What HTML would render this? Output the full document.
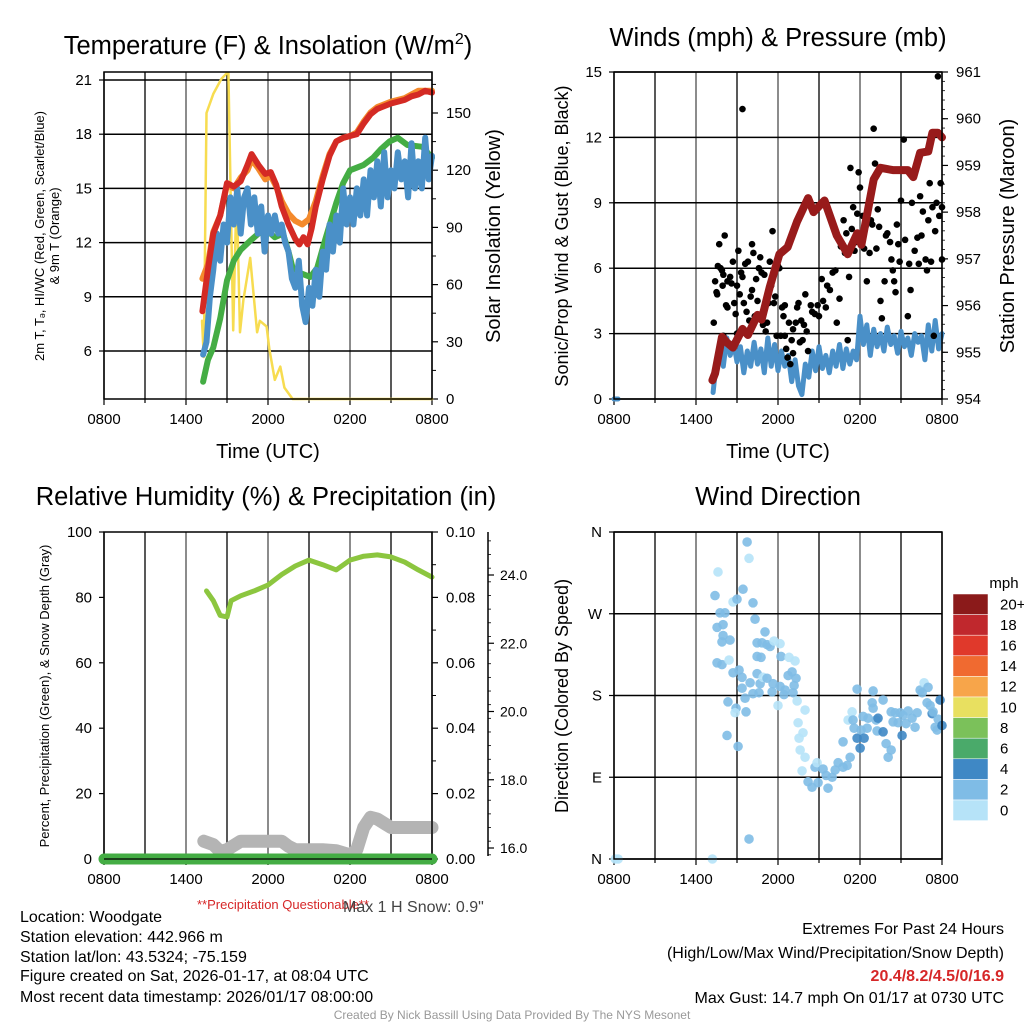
<!DOCTYPE html>
<html><head><meta charset="utf-8"><style>
html,body{margin:0;padding:0;background:#fff;}
svg{display:block;font-family:"Liberation Sans",sans-serif;}
</style></head><body>
<svg id="chart" width="1024" height="1024" viewBox="0 0 1024 1024" xmlns="http://www.w3.org/2000/svg">
<rect width="1024" height="1024" fill="#fff"/>
<text x="268" y="54" font-size="25.5" text-anchor="middle">Temperature (F) &amp; Insolation (W/m<tspan font-size="16" dy="-10">2</tspan><tspan dy="10">)</tspan></text>
<text x="778" y="46" font-size="25.5" text-anchor="middle">Winds (mph) &amp; Pressure (mb)</text>
<text x="266" y="505" font-size="25.5" text-anchor="middle">Relative Humidity (%) &amp; Precipitation (in)</text>
<text x="778" y="505" font-size="25.5" text-anchor="middle">Wind Direction</text>
<g id="g"></g>
<text x="283" y="909" font-size="13" fill="#d62728" text-anchor="middle">**Precipitation Questionable**</text>
<text x="343" y="912" font-size="16" fill="#444">Max 1 H Snow: 0.9"</text>
<g font-size="16">
<text x="20" y="922">Location: Woodgate</text>
<text x="20" y="942">Station elevation: 442.966 m</text>
<text x="20" y="962">Station lat/lon: 43.5324; -75.159</text>
<text x="20" y="981">Figure created on Sat, 2026-01-17, at 08:04 UTC</text>
<text x="20" y="1002">Most recent data timestamp: 2026/01/17 08:00:00</text>
</g>
<g font-size="16" text-anchor="end">
<text x="1004" y="934">Extremes For Past 24 Hours</text>
<text x="1004" y="958">(High/Low/Max Wind/Precipitation/Snow Depth)</text>
<text x="1004" y="981" fill="#d62728" font-weight="bold">20.4/8.2/4.5/0/16.9</text>
<text x="1004" y="1003">Max Gust: 14.7 mph On 01/17 at 0730 UTC</text>
</g>
<text x="512" y="1019" font-size="12" fill="#999" text-anchor="middle">Created By Nick Bassill Using Data Provided By The NYS Mesonet</text>
</svg>
<script>
const timeTicks=["0800","1400","2000","0200","0800"];
const tempTicks=[6,9,12,15,18,21];
const solarTicks=[0,30,60,90,120,150];
const windTicks=[0,3,6,9,12,15];
const presTicks=[954,955,956,957,958,959,960,961];
const rhTicks=[0,20,40,60,80,100];
const precipTicks=["0.00","0.02","0.04","0.06","0.08","0.10"];
const snowTicks=[16,18,20,22,24];
const dirTicks=["N","E","S","W","N"];
const redTemp=[[7.2,8.2],[7.6,10.5],[8,12.5],[8.5,13.5],[9,15.3],[9.5,15.1],[10,15.4],[10.5,16.3],[10.8,16.9],[11.3,16.3],[11.8,15.8],[12.2,15.9],[12.6,15.2],[13,14.0],[13.5,13.0],[14,12.2],[14.3,11.9],[14.6,12.3],[14.9,11.9],[15.2,12.8],[15.5,14.0],[16,15.5],[16.5,16.8],[17,17.6],[17.5,17.8],[18,17.9],[18.5,18.0],[19,18.6],[19.5,19.1],[20,19.4],[21,19.7],[22,19.9],[22.5,20.1],[23,20.2],[23.5,20.4],[24,20.3]];
const orangeTemp=[[7.2,10.0],[7.6,10.8],[8,12.6],[8.5,13.5],[9,15.2],[9.5,15.0],[10,15.6],[10.5,16.0],[10.8,16.6],[11.3,16.1],[11.8,15.5],[12.2,15.7],[12.6,15.1],[13,14.3],[13.5,13.6],[14,13.2],[14.5,13.0],[15,13.3],[15.5,14.3],[16,15.7],[16.5,16.9],[17,17.6],[17.5,17.8],[18,17.9],[18.5,18.1],[19,18.7],[19.5,19.2],[20,19.5],[21,19.8],[22,20.0],[23,20.4],[24,20.4]];
const greenDew=[[7.25,4.3],[7.6,5.5],[8,6.2],[8.5,7.8],[9,9.9],[9.5,11.0],[10,11.6],[10.7,12.1],[11.3,12.5],[11.9,12.7],[12.5,12.3],[13.1,12.5],[13.5,11.5],[13.8,10.6],[14.4,10.3],[15.1,10.1],[15.6,10.6],[16.2,12.2],[17,14.2],[17.5,15.3],[18,16.0],[19,16.3],[19.7,16.7],[20.3,17.2],[20.9,17.6],[21.5,17.8],[22.2,17.4],[23.3,17.3],[24,16.7]];
const blueHeat=[[7.25,5.8],[7.5,6.5],[7.75,9],[8,10.5],[8.25,12.5],[8.5,11],[8.75,13],[9,12],[9.25,14.5],[9.5,13],[9.75,15],[10,12.5],[10.25,14.5],[10.5,15],[10.75,13],[11,14.5],[11.25,12.5],[11.5,14],[11.75,11.5],[12,13.5],[12.25,12.5],[12.5,13.5],[12.75,12.5],[13,13],[13.25,12],[13.5,11.5],[13.75,10],[14,9.5],[14.25,11],[14.5,8.5],[14.75,7.6],[15,9.5],[15.25,8.5],[15.5,10.5],[15.75,9],[16,11.5],[16.25,10.5],[16.5,13],[16.75,11.5],[17,13.5],[17.25,12],[17.5,15],[17.75,13],[18,14.5],[18.25,13],[18.5,15],[18.75,13.5],[19,15.5],[19.25,13.5],[19.5,16],[19.75,14.5],[20,16.5],[20.25,14],[20.5,17],[20.75,14.5],[21,16],[21.25,15],[21.5,17],[21.75,15.5],[22,16.5],[22.25,14.5],[22.5,17.5],[22.75,15],[23,16.5],[23.25,15],[23.5,17.8],[23.75,15.5],[24,16.8]];
const solar=[[7.17,41],[7.3,22],[7.5,150],[8,160],[8.6,168],[9.0,171],[9.1,171],[9.45,36],[9.7,110],[9.95,35],[10.2,52],[10.7,74],[11.2,35],[11.4,41],[11.9,38],[12.1,26],[12.5,10],[12.9,17],[13.2,6],[13.8,0],[24,0]];
const windSpeed=[[0,0],[0.3,0],[7.25,0.3],[7.5,1.8],[7.75,2.5],[8,1.5],[8.25,2.8],[8.5,2.0],[8.75,2.6],[9,1.7],[9.25,2.4],[9.5,1.2],[9.75,2.2],[10,1.5],[10.25,2.6],[10.5,1.6],[10.75,2.3],[11,1.2],[11.25,2.8],[11.5,1.5],[11.75,2.5],[12,1.3],[12.25,2.2],[12.5,1.5],[12.75,2.0],[13,0.8],[13.25,1.8],[13.5,0.6],[13.75,0.2],[14,1.6],[14.25,1.0],[14.5,2.2],[14.75,1.3],[15,2.4],[15.25,1.4],[15.5,2.0],[15.75,1.2],[16,2.2],[16.25,1.5],[16.5,2.5],[16.75,1.4],[17,2.3],[17.25,1.6],[17.5,2.2],[17.75,1.8],[18,3.8],[18.25,2.5],[18.5,3.4],[18.75,2.0],[19,3.2],[19.25,2.4],[19.5,3.0],[19.75,2.2],[20,3.3],[20.25,2.5],[20.5,2.9],[20.75,2.1],[21,3.1],[21.25,2.4],[21.5,2.8],[21.75,2.0],[22,3.0],[22.25,2.6],[22.5,2.9],[22.75,1.8],[23,3.4],[23.25,2.2],[23.5,3.6],[23.75,2.3],[24,3.0]];
const pressure=[[7.2,954.4],[7.4,954.55],[7.9,955.33],[8.3,955.2],[8.7,955.1],[9.4,955.5],[9.8,955.37],[10.5,955.8],[10.8,955.7],[11.4,956.4],[12.1,957.1],[12.7,957.25],[13.4,957.8],[14.2,958.3],[14.6,958.0],[15.4,958.25],[16.3,957.5],[17.1,957.1],[17.8,957.55],[18.1,957.3],[19.0,958.7],[19.5,958.95],[20.4,958.9],[21.5,958.9],[21.9,958.75],[22.4,959.27],[23.0,959.3],[23.3,959.7],[23.7,959.7],[24,959.6]];
const gusts=[[7.3,3.5],[7.4,5.4],[7.5,4.9],[7.55,4.8],[7.6,6.1],[7.7,7.1],[7.8,6.0],[7.9,5.9],[7.95,5.2],[8.0,5.7],[8.1,7.5],[8.0,2.9],[8.2,4.3],[8.3,4.2],[8.3,5.4],[8.5,5.6],[8.6,5.3],[8.7,6.3],[8.8,4.4],[8.9,3.9],[9.0,5.2],[9.0,3.0],[9.1,6.8],[9.2,4.8],[9.4,13.3],[9.3,5.8],[9.4,5.6],[9.5,4.4],[9.6,6.2],[9.7,4.0],[9.8,6.3],[9.9,3.6],[10.0,4.7],[10.1,5.0],[10.2,6.7],[10.3,3.8],[10.4,5.5],[10.5,4.5],[10.1,7.1],[10.6,6.0],[10.7,6.5],[10.8,5.8],[10.9,3.4],[11.0,5.7],[11.1,3.1],[11.2,3.5],[11.3,4.4],[11.4,6.3],[11.5,5.2],[11.6,7.7],[11.7,4.4],[11.8,4.7],[11.9,2.9],[12.0,6.1],[12.1,6.0],[12.2,2.9],[12.3,4.2],[12.4,3.8],[12.5,2.9],[12.5,4.3],[12.6,2.3],[12.7,1.9],[12.8,3.5],[12.9,1.6],[13.0,2.7],[13.1,3.2],[13.1,2.1],[13.3,3.5],[13.4,4.2],[13.5,4.4],[13.6,2.6],[13.7,3.6],[13.8,2.7],[13.9,3.4],[14.0,4.8],[14.1,3.1],[14.2,2.2],[14.4,4.3],[14.5,4.0],[14.7,3.9],[14.9,4.3],[15.0,3.8],[15.2,5.5],[15.3,4.5],[15.5,4.2],[15.6,5.2],[15.8,5.0],[16.0,5.8],[16.2,5.9],[16.3,3.5],[16.5,4.6],[16.6,7.0],[16.8,8.2],[16.9,6.7],[17.0,7.6],[17.1,2.7],[17.2,5.6],[17.3,10.6],[17.4,7.8],[17.5,8.8],[17.6,6.8],[17.7,7.2],[17.8,8.5],[17.9,10.4],[18.0,9.7],[18.2,8.4],[18.3,6.9],[18.4,7.9],[18.5,5.4],[18.7,6.7],[18.8,8.2],[18.9,8.0],[19.0,12.4],[19.1,10.8],[19.2,6.9],[19.3,8.7],[19.4,7.9],[19.5,4.5],[19.6,3.7],[19.8,5.4],[19.9,7.5],[20.0,7.6],[20.2,7.2],[20.3,6.4],[20.4,5.9],[20.5,5.4],[20.6,4.9],[20.7,8.0],[20.8,7.1],[20.9,6.3],[21.0,9.1],[21.2,11.9],[21.3,7.3],[21.5,3.8],[21.6,6.2],[21.7,5.0],[21.8,9.0],[22.0,6.8],[22.2,7.4],[22.3,6.2],[22.4,9.3],[22.5,7.5],[22.6,8.6],[22.8,6.4],[23.0,8.2],[23.1,9.9],[23.2,6.3],[23.3,8.8],[23.5,7.7],[23.6,9.0],[23.7,14.8],[23.8,8.4],[23.9,9.9],[24.0,8.8],[23.4,2.9],[22.9,5.9],[24,6.4]];
const rh=[[7.5,82],[8,79],[8.5,74.5],[9,74],[9.3,79],[10,80.5],[11,82],[12,83.8],[13,87],[14,89.6],[15,91.4],[16,90],[17,88.4],[18,91.4],[19,92.6],[20,93],[21,92.4],[22,90.8],[23,88.4],[24,86.2]];
const precip=[[0,0],[24,0]];
const snowDepth=[[7.3,16.2],[8,16.1],[8.5,15.9],[9,15.95],[10,16.2],[11,16.2],[12,16.2],[13,16.2],[13.5,16.05],[14,15.95],[16,15.95],[17,15.92],[18,15.8],[18.5,15.95],[19,16.6],[19.5,16.9],[20,16.85],[21,16.6],[22,16.6],[24,16.6]];
const windDir=[[0.1,0,0],[0.3,0,0],[7.2,0,0],[7.39,290,1],[7.61,316,0],[7.76,271,1],[8.12,271,1],[7.54,255,1],[7.98,258,1],[7.98,246,1],[7.9,239,1],[8.49,241,1],[7.54,216,1],[7.9,214,1],[8.42,219,0],[8.71,205,1],[8.71,283,0],[9.0,286,1],[9.44,297,1],[9.74,349,1],[9.88,331,0],[10.17,282,1],[10.32,264,1],[9.15,208,1],[9.37,200,1],[9.37,188,1],[9.96,194,1],[9.59,177,1],[8.34,173,1],[8.93,166,1],[8.86,161,0],[9.66,162,1],[8.27,136,1],[9.08,124,1],[9.88,22,1],[10.47,223,1],[10.47,204,1],[10.47,238,1],[10.76,222,1],[10.83,238,1],[11.05,250,1],[11.2,236,1],[11.42,234,1],[11.71,240,0],[12.15,237,0],[12.22,223,1],[12.81,222,0],[13.25,218,0],[10.69,193,1],[10.61,183,1],[10.17,182,1],[10.91,200,0],[11.2,199,1],[11.57,184,1],[11.64,193,1],[12.0,169,0],[12.15,190,1],[12.52,186,1],[12.74,202,1],[13.03,206,1],[13.32,199,1],[13.18,191,1],[13.1,183,1],[12.44,181,1],[13.4,174,0],[13.98,164,0],[13.47,150,0],[13.83,139,0],[13.54,133,0],[13.62,120,0],[13.98,112,0],[13.76,97,0],[14.2,85,1],[14.49,79,1],[14.71,101,1],[14.86,106,0],[14.93,84,1],[15.3,99,1],[15.52,92,1],[15.66,78,1],[15.96,90,1],[16.18,98,1],[16.4,106,1],[16.76,101,1],[17.06,103,1],[16.76,129,1],[17.28,112,1],[17.13,153,0],[17.42,162,0],[17.49,153,1],[17.57,144,1],[17.79,187,1],[17.79,133,2],[18.01,122,2],[18.08,142,1],[18.3,133,2],[18.23,157,1],[18.52,144,1],[18.59,155,1],[18.89,172,1],[18.96,185,1],[18.96,166,1],[19.18,153,1],[19.32,155,2],[19.25,141,1],[19.69,140,2],[19.69,175,1],[19.91,127,1],[20.06,112,1],[20.28,120,1],[20.28,162,1],[20.42,151,1],[20.57,161,1],[20.79,150,1],[20.94,161,1],[21.08,136,2],[21.15,158,1],[21.37,149,1],[21.52,163,1],[21.81,155,1],[22.03,145,1],[22.18,161,1],[22.4,186,1],[22.55,183,1],[22.69,194,0],[22.98,189,1],[22.91,172,1],[23.13,169,1],[23.28,160,2],[23.35,162,1],[23.5,145,1],[23.64,142,1],[23.72,154,1],[23.86,175,2],[24.0,147,2]];
const speedColors=["#b6e3f8","#7fbce6","#3f88c5"];
const legendColors=["#8b1a1a","#c0282d","#e0392b","#f06a30","#f7a54a","#e8e060","#7bc15a","#4aaa6a","#3f88c5","#7fbce6","#b6e3f8"];
const legendLabels=["20+","18","16","14","12","10","8","6","4","2","0"];

const NS="http://www.w3.org/2000/svg";
const G=document.getElementById('g');
function mk(tag,attrs,parent){const e=document.createElementNS(NS,tag);for(const k in attrs)e.setAttribute(k,attrs[k]);(parent||G).appendChild(e);return e;}
function txt(x,y,s,size,anchor,parent){const e=mk('text',{x:x,y:y,'font-size':size,'text-anchor':anchor||'middle'},parent);e.textContent=s;return e;}
function lin(x0,x1,y0,y1,v0,v1){return v=>y0+(v-v0)*(y1-y0)/(v1-v0);}
function path(pts,sx,sy,color,w,name,parent,gap){
  let d='';
  pts.forEach((p,i)=>{const brk=(i==0)||(gap&&(p[0]-pts[i-1][0]>gap));d+=(brk?'M':'L')+sx(p[0]).toFixed(1)+','+sy(p[1]).toFixed(1);});
  const e=mk('path',{d:d,fill:'none',stroke:color,'stroke-width':w,'stroke-linejoin':'round','stroke-linecap':'round'},parent);
  
  
  return e;}

function panel(L,T,R,B,name){
  const g=mk('g',{});
  
  
  const sx=lin(0,0,L,R,0,24);
  for(let h=0;h<=24;h+=3){
    const x=sx(h);
    mk('line',{x1:x,x2:x,y1:T,y2:B,stroke:(h%6==0)?'#666':'#222','stroke-width':1.5},g);
    mk('line',{x1:x,x2:x,y1:B,y2:B+(h%6==0?6:4),stroke:'#000','stroke-width':1.2},g);
  }
  timeTicks.forEach((s,i)=>{const t=txt(sx(i*6),B+25,s,15,'middle',g);
    
    });
  return {g:g,sx:sx};
}
function frame(L,T,R,B,g){mk('rect',{x:L,y:T,width:R-L,height:B-T,fill:'none',stroke:'#000','stroke-width':1.5},g);}
function leftAxis(vals,sy,L,g,labels,grid,R){
  vals.forEach((v,i)=>{const y=sy(v);
    mk('line',{x1:L-5,x2:L,y1:y,y2:y,stroke:'#000','stroke-width':1.2},g);
    if(grid) mk('line',{x1:L,x2:R,y1:y,y2:y,stroke:'#000','stroke-width':1.5},g);
    const t=txt(L-12,y+5,labels?labels[i]:String(v),15,'end',g);
    
    });
}
function rightAxis(vals,sy,R,g,labels){
  vals.forEach((v,i)=>{const y=sy(v);
    mk('line',{x1:R,x2:R+6,y1:y,y2:y,stroke:'#000','stroke-width':1.2},g);
    const t=txt(R+14,y+5,labels?labels[i]:String(v),15,'start',g);
    
    });
}
function vlabel(x,y,s,size,name){const t=txt(0,0,s,size,'middle');t.setAttribute('transform','translate('+x+','+y+') rotate(-90)');
  
  return t;}

/* Panel 1 */
{const L=104,T=72,R=432,B=399;const P=panel(L,T,R,B,'temperature-panel');const g=P.g,sx=P.sx;
 const sy=lin(0,0,351,80,6,21);const sy2=lin(0,0,399,113,0,150);
 leftAxis(tempTicks,sy,L,g,null,true,R);rightAxis(solarTicks,sy2,R,g);
 for(let v=15;v<=165;v+=30){const y=sy2(v);mk('line',{x1:R,x2:R+4,y1:y,y2:y,stroke:'#000'},g);}
 path(solar,sx,sy2,'#f7dc50',2.5,'solar-insolation-line',g);
 path(orangeTemp,sx,sy,'#f48a2c',6,'9m-temp-line',g);
 path(greenDew,sx,sy,'#44ad44',6,'dewpoint-line',g);
 path(blueHeat,sx,sy,'#4a90c8',6,'heat-index-line',g);
 path(redTemp,sx,sy,'#d42a24',6,'2m-temp-line',g);
 frame(L,T,R,B,g);
 const tl=txt(268,458,'Time (UTC)',20,'middle',g);
 vlabel(44,236,'2m T, T\u2094, HI/WC (Red, Green, Scarlet/Blue)',13,'y-axis-title');
 vlabel(59,236,'& 9m T (Orange)',13,'y-axis-title-line2');
 vlabel(500,236,'Solar Insolation (Yellow)',20,'right-axis-title');}

/* Panel 2 */
{const L=614,T=72,R=942,B=399;const P=panel(L,T,R,B,'winds-panel');const g=P.g,sx=P.sx;
 const sy=lin(0,0,399,72,0,15);const sy2=lin(0,0,399,72,954,961);
 leftAxis(windTicks,sy,L,g,null,true,R);rightAxis(presTicks,sy2,R,g);
 for(let v=954;v<=961;v+=0.2){const y=sy2(v);mk('line',{x1:R,x2:R+3,y1:y,y2:y,stroke:'#000','stroke-width':0.8},g);}
 path(windSpeed,sx,sy,'#4a90c8',5,'wind-speed-line',g,2);
 gusts.forEach(p=>{const c=mk('circle',{cx:sx(p[0]),cy:sy(p[1]),r:3.3,fill:'#000'},g);
   
   });
 path(pressure,sx,sy2,'#981b1b',8,'pressure-line',g);
 frame(L,T,R,B,g);
 const tl=txt(778,458,'Time (UTC)',20,'middle',g);
 vlabel(568,236,'Sonic/Prop Wind & Gust (Blue, Black)',18,'y-axis-title');
 vlabel(1014,236,'Station Pressure (Maroon)',20,'right-axis-title');}

/* Panel 3 */
{const L=104,T=532,R=432,B=859;const P=panel(L,T,R,B,'humidity-panel');const g=P.g,sx=P.sx;
 const sy=lin(0,0,859,532,0,100);const sy3=lin(0,0,848,575,16,24);
 leftAxis(rhTicks,sy,L,g,null,false,R);
 rightAxis([0,20,40,60,80,100],sy,R,g,precipTicks);
 for(let v=10;v<100;v+=20){const y=sy(v);mk('line',{x1:R,x2:R+4,y1:y,y2:y,stroke:'#000'},g);}
 mk('line',{x1:488,x2:488,y1:532,y2:856,stroke:'#000','stroke-width':1.5},g);
 snowTicks.forEach(v=>{const y=sy3(v);mk('line',{x1:488,x2:494,y1:y,y2:y,stroke:'#000','stroke-width':1.2},g);
   const t=txt(500,y+5,v.toFixed(1),14,'start',g);});
 for(let v=15.8;v<=25;v+=0.4){const y=sy3(v);if(y>532&&y<857)mk('line',{x1:488,x2:491,y1:y,y2:y,stroke:'#000','stroke-width':0.8},g);}
 path(snowDepth,sx,sy3,'#b4b4b4',13,'snow-depth-line',g);
 path(rh,sx,sy,'#8cc63f',5,'relative-humidity-line',g);
 frame(L,T,R,B,g);
 path(precip,sx,sy,'#44ad44',11,'precipitation-line',g);
 mk('line',{x1:L,x2:R,y1:B,y2:B,stroke:'#000','stroke-width':1.2},g);
 vlabel(49,696,'Percent, Precipitation (Green), & Snow Depth (Gray)',13,'y-axis-title');}

/* Panel 4 */
{const L=614,T=532,R=942,B=859;const P=panel(L,T,R,B,'wind-direction-panel');const g=P.g,sx=P.sx;
 const sy=lin(0,0,859,532,0,360);
 leftAxis([0,90,180,270,360],sy,L,g,dirTicks,true,R);
 windDir.forEach(p=>{const c=mk('circle',{cx:sx(p[0]),cy:sy(p[1]),r:4.8,fill:speedColors[p[2]],'fill-opacity':0.9},g);
   
   });
 frame(L,T,R,B,g);
 vlabel(568,696,'Direction (Colored By Speed)',18,'y-axis-title');
 const lg=mk('g',{});
 
 
 txt(1004,588,'mph',15,'middle',lg);
 const h=20.6;
 legendColors.forEach((c,i)=>{mk('rect',{x:953,y:594+i*h,width:35,height:h,fill:c,stroke:'#fff','stroke-width':0.5},lg);
   const t=txt(1000,594+i*h+h/2+5,legendLabels[i],15,'start',lg);
   
   });}
</script>
</body></html>
